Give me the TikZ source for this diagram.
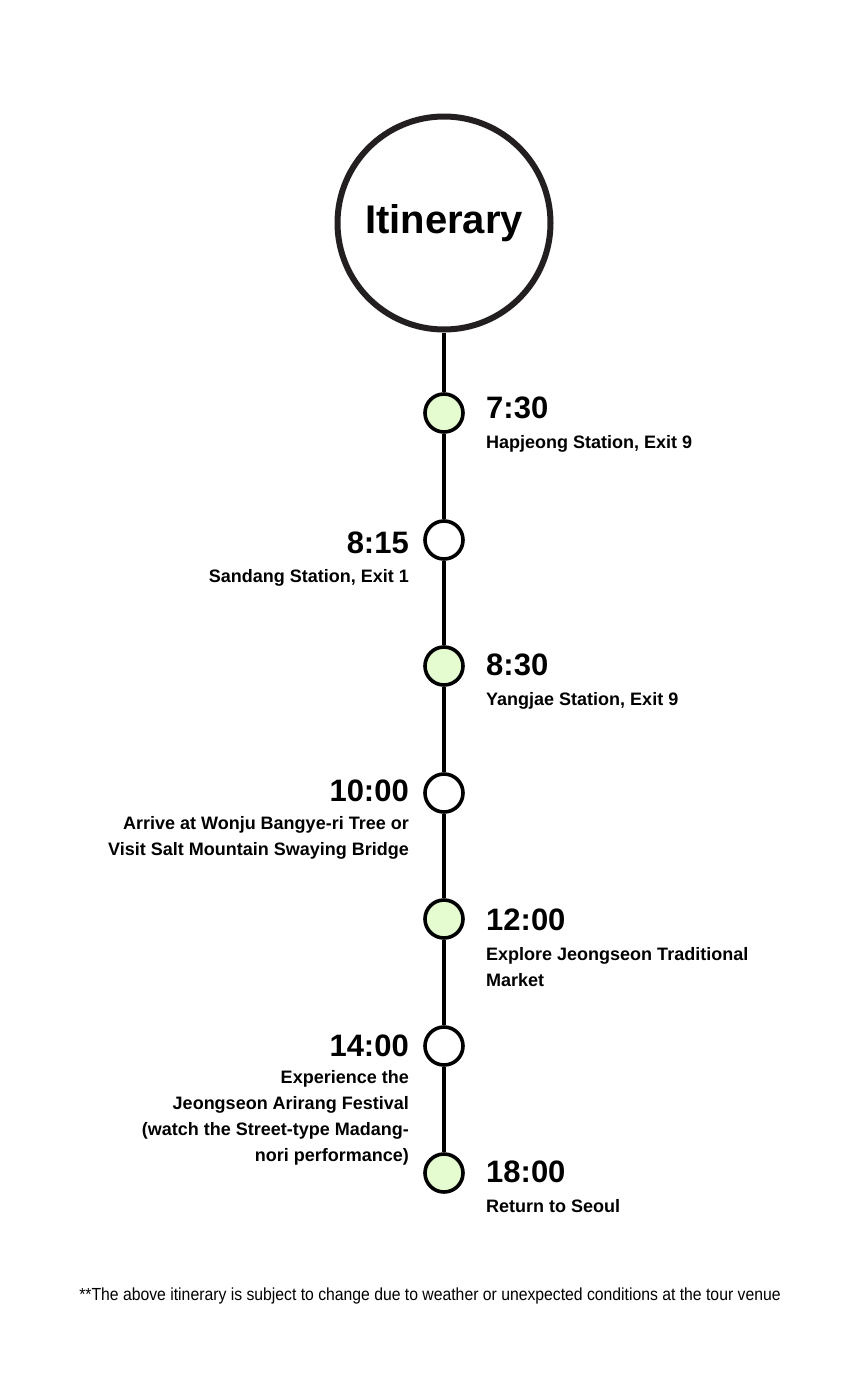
\documentclass[tikz,border=0pt]{standalone}
\usepackage{fontspec}
\setmainfont{Liberation Sans}
\newfontfamily\footfont[FakeStretch=0.9]{Liberation Sans}
\definecolor{ring}{HTML}{231F20}
\definecolor{dotgreen}{HTML}{E4FCCF}
\begin{document}
\begin{tikzpicture}[x=1pt,y=-1pt,
  bigcirc/.style={circle,draw=ring,line width=6pt,minimum size=213pt,inner sep=0pt,font=\fontsize{40}{40}\selectfont\bfseries},
  dotg/.style={circle,draw=black,line width=3.6pt,fill=dotgreen,minimum size=38pt,inner sep=0pt},
  dotw/.style={dotg,fill=white},
  timeR/.style={anchor=base west,inner sep=0pt,font=\fontsize{31}{31}\selectfont\bfseries},
  timeL/.style={anchor=base east,inner sep=0pt,font=\fontsize{31}{31}\selectfont\bfseries},
  labR/.style={anchor=base west,inner sep=0pt,align=left,font=\fontsize{18}{26}\selectfont\bfseries},
  labL/.style={anchor=base east,inner sep=0pt,align=right,font=\fontsize{18}{26}\selectfont\bfseries},
  spine/.style={line width=3.4pt,black}]
\useasboundingbox[fill=white] (0,0) rectangle (860,1400);
\node[bigcirc] (title) at (444,223) {Itinerary};
\node[dotg] (d1) at (444,413) {};
\node[dotw] (d2) at (444,540) {};
\node[dotg] (d3) at (444,666) {};
\node[dotw] (d4) at (444,793) {};
\node[dotg] (d5) at (444,919) {};
\node[dotw] (d6) at (444,1046) {};
\node[dotg] (d7) at (444,1173) {};
\draw[spine] (title) -- (d1);
\draw[spine] (d1) -- (d2);
\draw[spine] (d2) -- (d3);
\draw[spine] (d3) -- (d4);
\draw[spine] (d4) -- (d5);
\draw[spine] (d5) -- (d6);
\draw[spine] (d6) -- (d7);
\node[timeR] (t1) at (486,418) {7:30};
\node[labR] (l1) at (486,448) {Hapjeong Station, Exit 9};
\node[timeL] (t2) at (409,553) {8:15};
\node[labL] (l2) at (409,582) {Sandang Station, Exit 1};
\node[timeR] (t3) at (486,675) {8:30};
\node[labR] (l3) at (486,705) {Yangjae Station, Exit 9};
\node[timeL] (t4) at (409,801) {10:00};
\node[labL] (l4) at (409,855) {Arrive at Wonju Bangye-ri Tree or\\Visit Salt Mountain Swaying Bridge};
\node[timeR] (t5) at (486,930) {12:00};
\node[labR] (l5) at (486,986) {Explore Jeongseon Traditional\\Market};
\node[timeL] (t6) at (409,1056) {14:00};
\node[labL] (l6) at (409,1161) {Experience the\\Jeongseon Arirang Festival\\(watch the Street-type Madang-\\nori performance)};
\node[timeR] (t7) at (486,1182) {18:00};
\node[labR] (l7) at (486,1212) {Return to Seoul};
\node[anchor=base,inner sep=0pt,font=\footfont\fontsize{17.5}{17.5}\selectfont] (foot) at (430,1300) {**The above itinerary is subject to change due to weather or unexpected conditions at the tour venue};
\end{tikzpicture}
\end{document}
